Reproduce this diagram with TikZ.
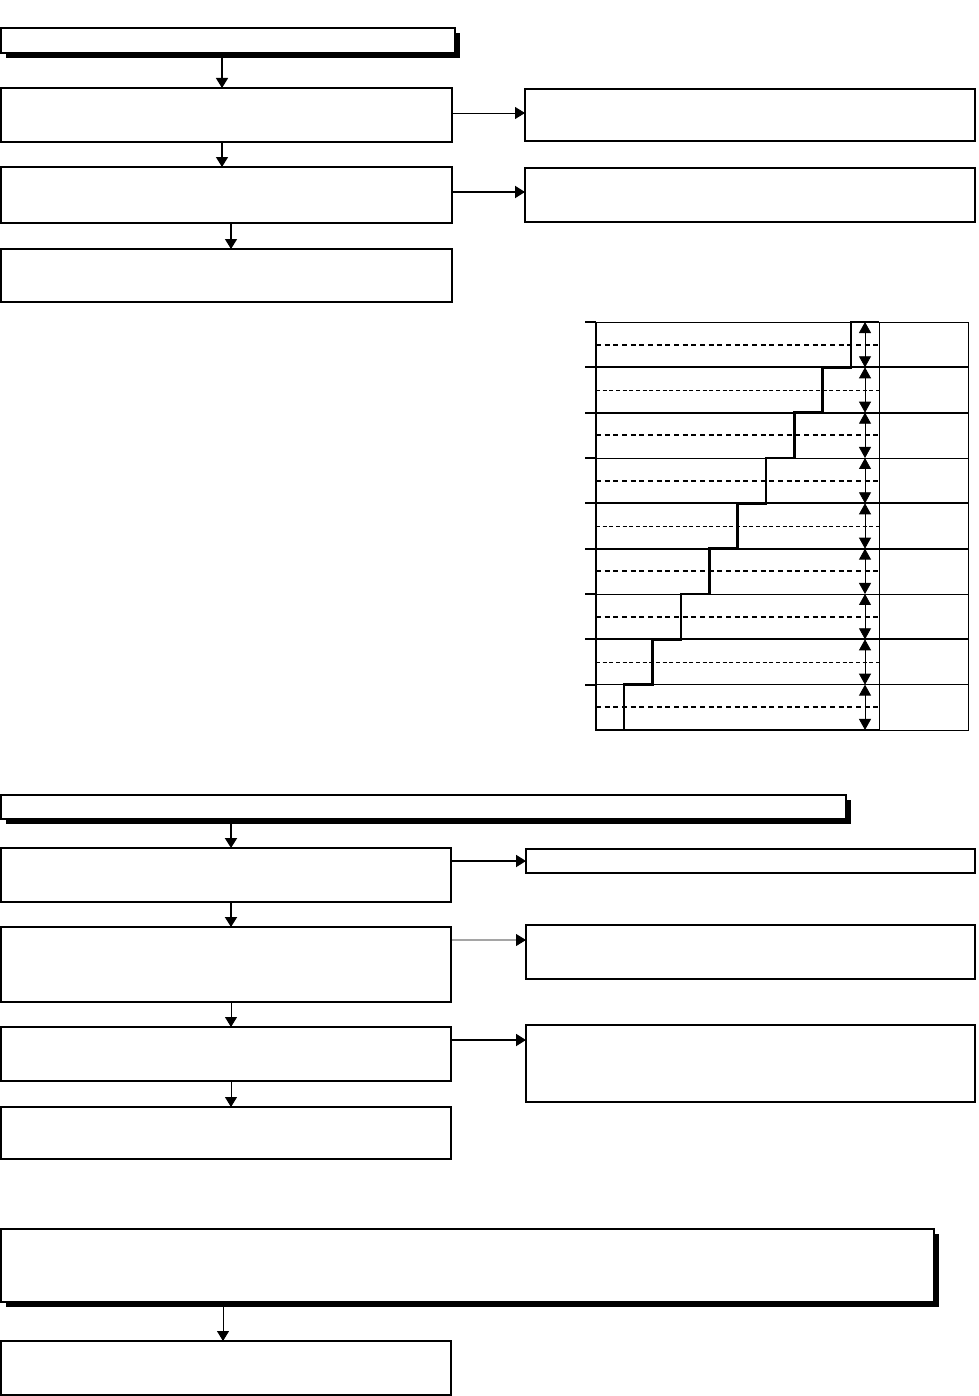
\documentclass[tikz,border=0pt]{standalone}
\usetikzlibrary{arrows.meta,shadows}
\tikzset{
  sz/.style 2 args={minimum width=#1*0.3mm, minimum height=#2*0.3mm},
  box/.style={draw, line width=1.5pt, inner sep=0pt, outer sep=0pt, anchor=north west, fill=white},
  thinbox/.style={box, line width=1.1pt},
  shadowbox/.style={box, line width=1pt, drop shadow={shadow xshift=1.4mm, shadow yshift=-1.4mm, opacity=1, fill=black}},
  arr/.style={-{Triangle[width=3.6mm,length=3mm]}, line width=0.8pt},
  thickarr/.style={arr, line width=1.6pt},
  dblarr/.style={{Triangle[width=3.6mm,length=3.3mm]}-{Triangle[width=3.6mm,length=3.3mm]}, line width=0.7pt},
  rowthin/.style={line width=0.8pt},
  rowthick/.style={line width=1.7pt},
  midthin/.style={line width=0.6pt, dash pattern=on 1.2mm off 0.8mm},
  midthick/.style={line width=1.5pt, dash pattern=on 1.5mm off 1.1mm},
  stair/.style={line width=2.2pt, line join=miter}
}
\begin{document}
\begin{tikzpicture}[x=0.3mm,y=-0.3mm]
\useasboundingbox (0,0) rectangle (978,1396);

\node[shadowbox, sz={454}{25}] (H1) at (1,28) {};
\node[box, sz={451}{54}] (B1) at (1,88) {};
\node[box, sz={451}{56}] (B2) at (1,167) {};
\node[box, sz={451}{53}] (B3) at (1,249) {};
\node[thinbox, sz={450}{52}] (R1) at (525,89) {};
\node[thinbox, sz={450}{54}] (R2) at (525,168) {};

\draw[arr, line width=1.2pt] ([xshift=66.3mm]H1.south west) -- ([xshift=66.3mm]B1.north west);
\draw[arr, line width=1.2pt] ([xshift=66.3mm]B1.south west) -- ([xshift=66.3mm]B2.north west);
\draw[arr, line width=1.2pt] ([xshift=69mm]B2.south west) -- ([xshift=69mm]B3.north west);
\draw[arr] ([yshift=0.6mm]B1.east) -- ([yshift=0.6mm]R1.west);
\draw[thickarr] ([yshift=0.9mm]B2.east) -- ([yshift=0.9mm]R2.west);

\foreach \i/\rs/\ms in {0/rowthin/midthick,1/rowthick/midthin,2/rowthick/midthick,
  3/rowthin/midthick,4/rowthick/midthin,5/rowthick/midthick,
  6/rowthin/midthick,7/rowthick/midthin,8/rowthin/midthick}{
  \draw[\rs] (596,{322+45.33*\i}) -- (968,{322+45.33*\i});
  \draw[rowthick] (585,{322+45.33*\i}) -- (596,{322+45.33*\i});
  \draw[\ms] (596,{344.67+45.33*\i}) -- (879,{344.67+45.33*\i});
  \draw[dblarr] (865,{322+45.33*\i}) -- (865,{367.33+45.33*\i});
}
\draw[rowthick] (596,322) -- (596,730) -- (879,730);
\draw[rowthin] (879,322) -- (879,730) -- (968,730) -- (968,322);
\draw[stair] (879,322) \foreach \i in {0,...,8}{
  -- ({851-28.35*\i},{322+45.33*\i}) -- ({851-28.35*\i},{367.33+45.33*\i})};

\node[shadowbox, sz={845}{24}] (H2) at (1,795) {};
\node[thinbox, sz={450}{54}] (C1) at (1,848) {};
\node[thinbox, sz={450}{75}] (C2) at (1,927) {};
\node[thinbox, sz={450}{54}] (C3) at (1,1027) {};
\node[thinbox, sz={450}{52}] (C4) at (1,1107) {};
\node[thinbox, sz={449}{24}] (R3) at (526,849) {};
\node[thinbox, sz={449}{54}] (R4) at (526,925) {};
\node[thinbox, sz={449}{77}] (R5) at (526,1025) {};
\draw[thickarr] ([xshift=69mm]H2.south west) -- ([xshift=69mm]C1.north west);
\draw[thickarr] ([xshift=69mm]C1.south west) -- ([xshift=69mm]C2.north west);
\draw[arr] ([xshift=69mm]C2.south west) -- ([xshift=69mm]C3.north west);
\draw[arr] ([xshift=69mm]C3.south west) -- ([xshift=69mm]C4.north west);
\draw[thickarr] (C1.east |- R3.west) -- (R3.west);
\draw[arr] ([yshift=-3.9mm]C2.north east) -- ([yshift=-4.5mm]R4.north west);
\draw[thickarr] ([yshift=-3.9mm]C3.north east) -- ([yshift=-4.5mm]R5.north west);

\node[shadowbox, sz={933}{73}] (H3) at (1,1229) {};
\node[thinbox, sz={450}{54}] (D1) at (1,1341) {};
\draw[arr] ([xshift=66.6mm]H3.south west) -- ([xshift=66.6mm]D1.north west);
\end{tikzpicture}
\end{document}
